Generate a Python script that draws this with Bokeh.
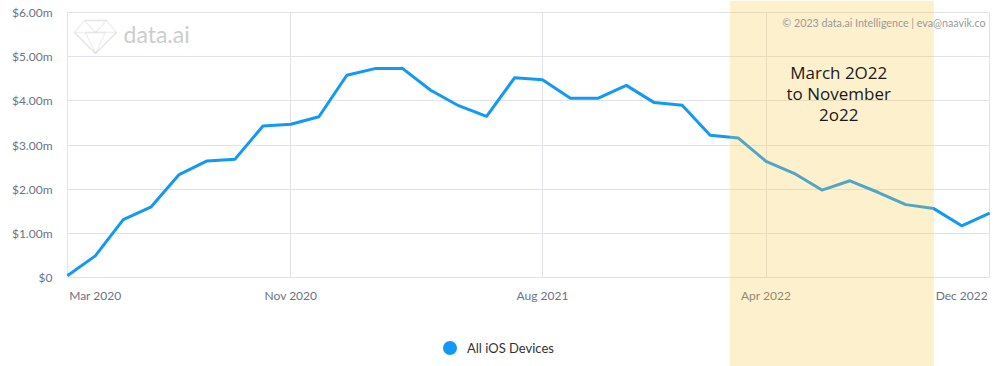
from bokeh.plotting import figure
from bokeh.models import (Range1d, FixedTicker, BoxAnnotation, Label, Legend,
                          LegendItem, PolyAnnotation)
from bokeh.embed import file_html
from bokeh.resources import INLINE

# ---- data ----
months = [
    "Mar 2020", "Apr 2020", "May 2020", "Jun 2020", "Jul 2020", "Aug 2020",
    "Sep 2020", "Oct 2020", "Nov 2020", "Dec 2020",
    "Jan 2021", "Feb 2021", "Mar 2021", "Apr 2021", "May 2021", "Jun 2021",
    "Jul 2021", "Aug 2021", "Sep 2021", "Oct 2021", "Nov 2021", "Dec 2021",
    "Jan 2022", "Feb 2022", "Mar 2022", "Apr 2022", "May 2022", "Jun 2022",
    "Jul 2022", "Aug 2022", "Sep 2022", "Oct 2022", "Nov 2022", "Dec 2022",
]
revenue_musd = [
    0.04, 0.49, 1.31, 1.60, 2.33, 2.64, 2.68, 3.43, 3.47, 3.64,
    4.58, 4.73, 4.73, 4.24, 3.89, 3.65, 4.52, 4.48, 4.06, 4.06,
    4.35, 3.96, 3.90, 3.22, 3.16, 2.63, 2.36, 1.98, 2.19, 1.93,
    1.65, 1.56, 1.17, 1.46,
]
series_name = "All iOS Devices"
x_tick_labels = ["Mar 2020", "Nov 2020", "Aug 2021", "Apr 2022", "Dec 2022"]
y_ticks = [0, 1, 2, 3, 4, 5, 6]
y_tick_labels = ["$0", "$1.00m", "$2.00m", "$3.00m", "$4.00m", "$5.00m", "$6.00m"]
highlight_start, highlight_end = 23.7, 31.0
note_text = "March 2O22\nto November\n2o22"
credit_text = "\u00a9 2023 data.ai Intelligence | eva@naavik.co"

x = list(range(len(months)))
grid_pos = [months.index(l) for l in x_tick_labels[1:-1]]
# edge labels are pulled inside the frame, as in the original
x_tick_pos = [1] + grid_pos + [len(months) - 2]
x0, x1 = 0, len(months) - 1

FONT = "Lato"
LABEL_COLOR = "#6b7385"
GRID = "#e2e3e9"
BLUE = "#1199f5"
LOGO = "#d2d2d2"

# ---- layout (pixels) ----
W, H = 992, 366
B_LEFT, B_RIGHT = 66, 2
ZERO_Y, TOP_Y = 277, 12          # canvas rows of $0 and $6.00m
ppu = (ZERO_Y - TOP_Y) / (y_ticks[-1] - y_ticks[0])
# the plot frame spans the full canvas height so the highlight band can run
# from top to bottom; the value axis occupies only its upper part
y_range = Range1d(-(H - ZERO_Y) / ppu, ZERO_Y / ppu)
pad = 0.03                       # keeps the edge grid lines (frame border) visible

p = figure(
    width=W, height=H,
    x_range=Range1d(x0 - pad, x1 + pad), y_range=y_range,
    output_backend="svg", toolbar_location=None,
    min_border_left=B_LEFT, min_border_right=B_RIGHT,
    min_border_top=0, min_border_bottom=0,
    outline_line_color=None, background_fill_color="white",
)

p.xaxis.fixed_location = 0
p.xaxis.ticker = FixedTicker(ticks=x_tick_pos)
p.xaxis.major_label_overrides = dict(zip(x_tick_pos, x_tick_labels))
p.yaxis.ticker = FixedTicker(ticks=y_ticks)
p.yaxis.major_label_overrides = dict(zip(y_ticks, y_tick_labels))
for ax in (p.xaxis, p.yaxis):
    ax.axis_line_color = None
    ax.major_tick_line_color = None
    ax.minor_tick_line_color = None
    ax.major_tick_out = 0
    ax.major_tick_in = 0
    ax.minor_tick_out = 0
    ax.major_label_text_font = FONT
    ax.major_label_text_font_size = "12px"
    ax.major_label_text_color = LABEL_COLOR
p.xaxis.major_label_standoff = 10
p.yaxis.major_label_standoff = 14

# vertical lines: frame edges + labelled months, only over the value area
p.xgrid.ticker = FixedTicker(ticks=[x0] + grid_pos + [x1])
p.xgrid.cross_bounds = (y_ticks[0], y_ticks[-1])
p.ygrid.ticker = FixedTicker(ticks=y_ticks)
p.ygrid.cross_bounds = (x0, x1)
p.grid.grid_line_color = GRID
p.grid.grid_line_width = 1

p.line(x, revenue_musd, line_color=BLUE, line_width=3, line_join="round")

# hidden marker renderer that only supplies the round legend swatch
dot = p.scatter(x, revenue_musd, marker="circle", size=14, fill_color=BLUE,
                line_color=None, visible=False)
legend = Legend(
    items=[LegendItem(label=series_name, renderers=[dot])],
    location=(366, 1), orientation="horizontal",
    padding=0, margin=0, border_line_color=None, background_fill_alpha=0,
    inactive_fill_alpha=0,
    glyph_width=35, glyph_height=35, label_standoff=-7,
    label_text_font=FONT, label_text_font_size="13px", label_text_color="#333333",
)
p.add_layout(legend, "center")

# watermark: gem outline + "data.ai" (screen units, origin at frame bottom-left)
for xs, ys in [
    ([8, 18, 40, 50, 29], [334, 346, 346, 334, 313]),
    ([18, 40, 29], [346, 346, 334]),
    ([8, 50, 29], [334, 334, 313]),
    ([19, 39, 29], [334, 334, 313]),
]:
    p.add_layout(PolyAnnotation(xs=xs, ys=ys, xs_units="screen", ys_units="screen",
                                fill_alpha=0, line_color=LOGO, line_width=1.6))
p.add_layout(Label(x=57, y=333, x_units="screen", y_units="screen", text="data.ai",
                   text_font=FONT, text_font_size="23px", text_color="#cdcdcd",
                   text_baseline="middle", text_align="left"))

band = BoxAnnotation(left=highlight_start, right=highlight_end,
                     fill_color="#f7c948", fill_alpha=0.28, line_color=None)
p.add_layout(band)

p.add_layout(Label(x=919, y=344.5, x_units="screen", y_units="screen", text=credit_text,
                   text_font=FONT, text_font_size="10.7px", text_color="#9a9a9a",
                   text_align="right", text_baseline="middle"))

p.add_layout(Label(x=(highlight_start + highlight_end) / 2 + 0.25, y=4.9, text=note_text,
                   text_font="Open Sans", text_font_size="17px", text_color="#1a1a1a",
                   text_align="center", text_baseline="top", text_line_height=0.91))

open("out.html", "w").write(file_html(p, INLINE))
